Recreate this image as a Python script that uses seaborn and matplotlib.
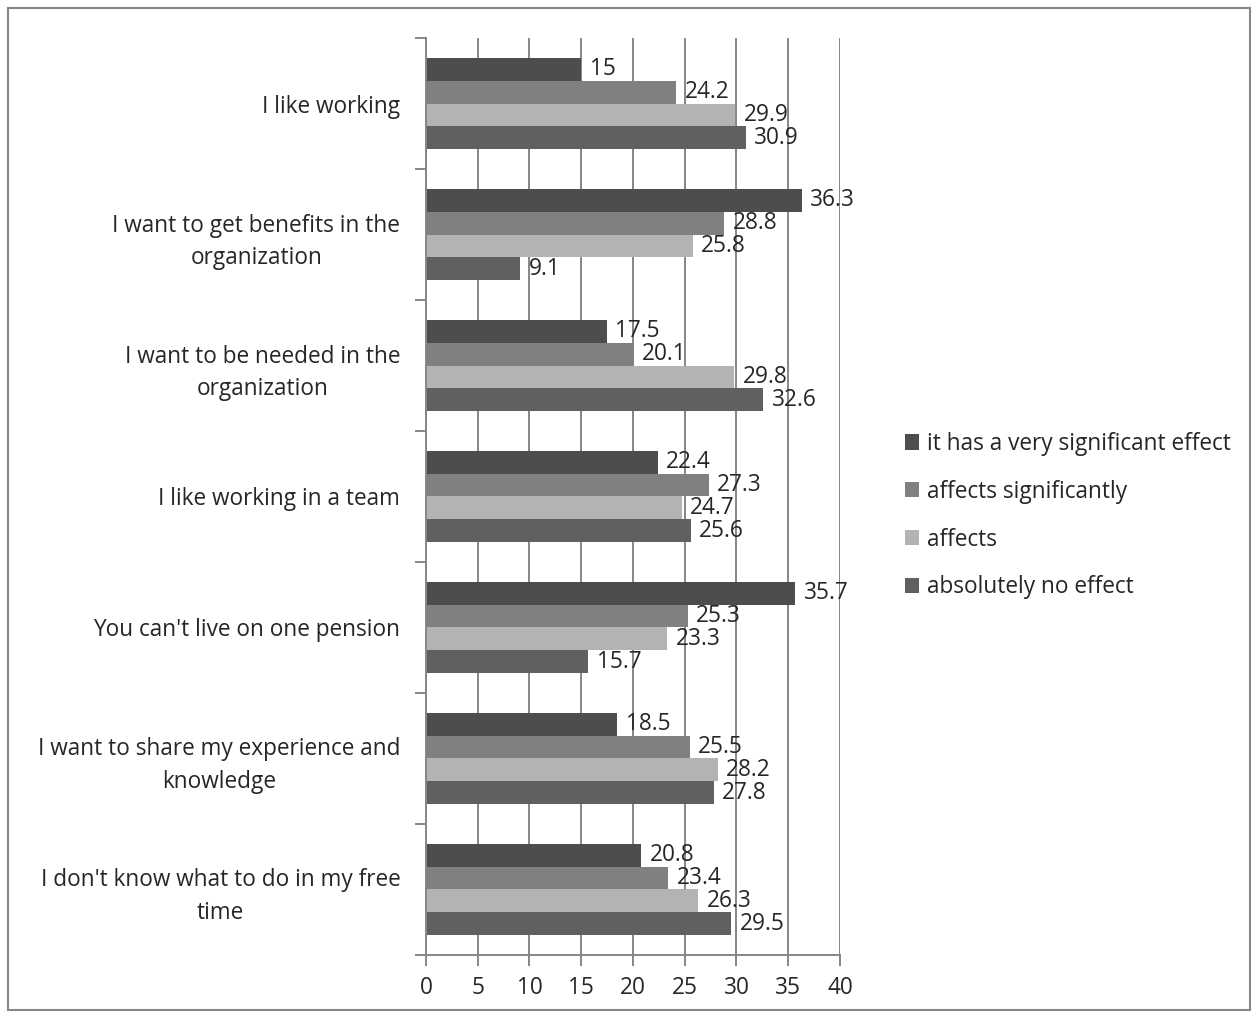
import numpy as np
import pandas as pd
import matplotlib
matplotlib.use("Agg")
import matplotlib.pyplot as plt
from matplotlib.patches import Rectangle
import seaborn as sns

# survey data
reasons = [
    "I like working",
    "I want to get benefits in the\norganization",
    "I want to be needed in the\norganization",
    "I like working in a team",
    "You can't live on one pension",
    "I want to share my experience and\nknowledge",
    "I don't know what to do in my free\ntime",
]
levels = ["it has a very significant effect", "affects significantly", "affects", "absolutely no effect"]
very_significant = [15, 36.3, 17.5, 22.4, 35.7, 18.5, 20.8]
significantly = [24.2, 28.8, 20.1, 27.3, 25.3, 25.5, 23.4]
affects = [29.9, 25.8, 29.8, 24.7, 23.3, 28.2, 26.3]
no_effect = [30.9, 9.1, 32.6, 25.6, 15.7, 27.8, 29.5]
colors = ["#4d4d4d", "#808080", "#b3b3b3", "#606060"]

rows = []
for lvl, vals in zip(levels, [very_significant, significantly, affects, no_effect]):
    for r, v in zip(reasons, vals):
        rows.append({"reason": r, "level": lvl, "value": v})
df = pd.DataFrame(rows)

sns.set_style("white")
plt.rcParams["font.family"] = ["Open Sans", "DejaVu Sans"]
fs = 16.3

fig = plt.figure(figsize=(12.58, 10.17), dpi=100)
ax = fig.add_axes([0.3386, 0.061, 0.3291, 0.9016])

sns.barplot(data=df, y="reason", x="value", hue="level", order=reasons,
            hue_order=levels, palette=colors, orient="h", width=0.7,
            saturation=1, linewidth=0, ax=ax, legend=True)

for cont in ax.containers:
    ax.bar_label(cont, fmt="%g", padding=6, fontsize=fs)

ax.set_xlim(0, 40)
ax.set_xticks(np.arange(0, 41, 5))
ax.set_ylim(len(reasons) - 0.5, -0.5)
ax.set_xlabel("")
ax.set_ylabel("")
ax.grid(axis="x", color="#868686", linewidth=1.4)
ax.set_axisbelow(True)
for s in ["top", "right"]:
    ax.spines[s].set_visible(False)
for s in ["left", "bottom"]:
    ax.spines[s].set_color("#868686")
    ax.spines[s].set_linewidth(1.4)

ax.tick_params(axis="x", direction="out", length=8, width=1.4, color="#868686",
               labelsize=fs, pad=7, bottom=True)
# category boundaries as y tick marks
ax.set_yticks(np.arange(-0.5, len(reasons), 1.0), minor=True)
ax.tick_params(axis="y", which="minor", direction="out", length=8, width=1.4,
               color="#868686", left=True)
ax.tick_params(axis="y", which="major", length=0, labelsize=fs, pad=18.5)
for lab in ax.get_yticklabels():
    lab.set_multialignment("center")
    lab.set_linespacing(1.45)

handles, labels = ax.get_legend_handles_labels()
ax.get_legend().remove()
fig.legend(handles, labels, loc="center left", bbox_to_anchor=(0.703, 0.493),
           frameon=False, fontsize=fs, handlelength=0.65, handleheight=0.65,
           handletextpad=0.35, labelspacing=1.05)

fig.add_artist(Rectangle((0.0064, 0.0069), 0.9872, 0.9852, transform=fig.transFigure,
                         fill=False, edgecolor="#868686", linewidth=1.5))

fig.savefig("out.png", dpi=100, facecolor="white")
